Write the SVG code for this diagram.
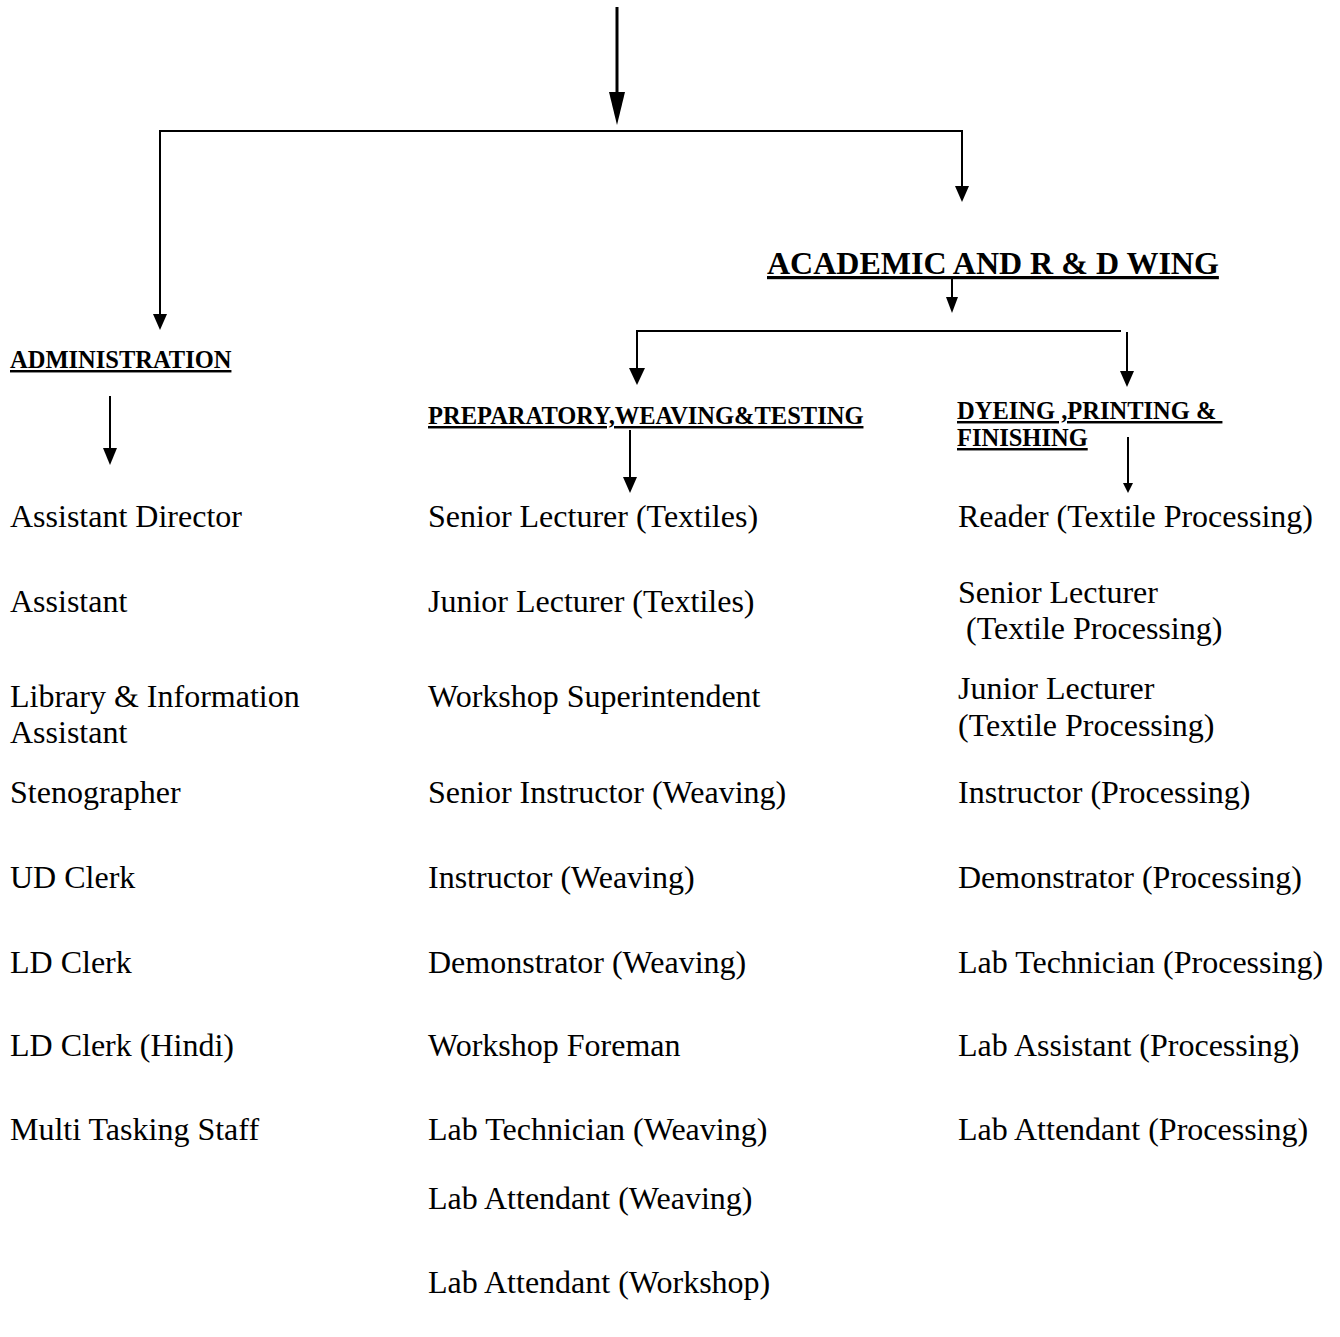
<svg xmlns="http://www.w3.org/2000/svg" width="1340" height="1337" viewBox="0 0 1340 1337">
<style>
.t{font-family:"Liberation Serif","Times New Roman",serif;font-size:32px;fill:#000}
.h{font-family:"Liberation Serif","Times New Roman",serif;font-size:24.5px;font-weight:bold;fill:#000;text-decoration:underline}
.hb{font-family:"Liberation Serif","Times New Roman",serif;font-size:32px;font-weight:bold;fill:#000;text-decoration:underline}
.ln{stroke:#000;stroke-width:2;fill:none}
.hd{fill:#000}
</style>
<rect width="1340" height="1337" fill="#fff"/>
<g id="connectors">
<line class="ln" x1="617" y1="7" x2="617" y2="95" style="stroke-width:3"/>
<polygon class="hd" points="609,92 625,92 617,125"/>
<polyline class="ln" points="160,318 160,131 962,131 962,188"/>
<polygon class="hd" points="153,314 167,314 160,330"/>
<polygon class="hd" points="955,186 969,186 962,202"/>
<line class="ln" x1="952" y1="277" x2="952" y2="300"/>
<polygon class="hd" points="946,297 958,297 952,313"/>
<polyline class="ln" points="637,372 637,331 1121,331"/>
<line class="ln" x1="1127" y1="332" x2="1127" y2="374"/>
<polygon class="hd" points="629,368 645,368 637,385"/>
<polygon class="hd" points="1120,371 1134,371 1127,387"/>
<line class="ln" x1="110" y1="396" x2="110" y2="450"/>
<polygon class="hd" points="103,448 117,448 110,465"/>
<line class="ln" x1="630" y1="430" x2="630" y2="479"/>
<polygon class="hd" points="623,477 637,477 630,493"/>
<line class="ln" x1="1128" y1="437" x2="1128" y2="485"/>
<polygon class="hd" points="1123,483 1133,483 1128,493"/>
</g>
<g id="academic"><text class="hb" x="767" y="274">ACADEMIC AND R &amp; D WING</text></g>
<g id="administration"><text class="h" x="10" y="368">ADMINISTRATION</text></g>
<g id="preparatory"><text class="h" x="428" y="424">PREPARATORY,WEAVING&amp;TESTING</text></g>
<g id="dyeing"><text class="h" x="957" y="419" xml:space="preserve">DYEING ,PRINTING &amp; </text><text class="h" x="957" y="446">FINISHING</text></g>
<g id="admin-staff">
<text class="t" x="10" y="527">Assistant Director</text>
<text class="t" x="10" y="612">Assistant</text>
<text class="t" x="10" y="707">Library &amp; Information</text>
<text class="t" x="10" y="743">Assistant</text>
<text class="t" x="10" y="803">Stenographer</text>
<text class="t" x="10" y="888">UD Clerk</text>
<text class="t" x="10" y="973">LD Clerk</text>
<text class="t" x="10" y="1056">LD Clerk (Hindi)</text>
<text class="t" x="10" y="1140">Multi Tasking Staff</text>
</g>
<g id="prep-staff">
<text class="t" x="428" y="527">Senior Lecturer (Textiles)</text>
<text class="t" x="428" y="612">Junior Lecturer (Textiles)</text>
<text class="t" x="428" y="707">Workshop Superintendent</text>
<text class="t" x="428" y="803">Senior Instructor (Weaving)</text>
<text class="t" x="428" y="888">Instructor (Weaving)</text>
<text class="t" x="428" y="973">Demonstrator (Weaving)</text>
<text class="t" x="428" y="1056">Workshop Foreman</text>
<text class="t" x="428" y="1140">Lab Technician (Weaving)</text>
<text class="t" x="428" y="1209">Lab Attendant (Weaving)</text>
<text class="t" x="428" y="1293">Lab Attendant (Workshop)</text>
</g>
<g id="dyeing-staff">
<text class="t" x="958" y="527">Reader (Textile Processing)</text>
<text class="t" x="958" y="603">Senior Lecturer</text>
<text class="t" x="966" y="639">(Textile Processing)</text>
<text class="t" x="958" y="699">Junior Lecturer</text>
<text class="t" x="958" y="736">(Textile Processing)</text>
<text class="t" x="958" y="803">Instructor (Processing)</text>
<text class="t" x="958" y="888">Demonstrator (Processing)</text>
<text class="t" x="958" y="973">Lab Technician (Processing)</text>
<text class="t" x="958" y="1056">Lab Assistant (Processing)</text>
<text class="t" x="958" y="1140">Lab Attendant (Processing)</text>
</g>
</svg>
